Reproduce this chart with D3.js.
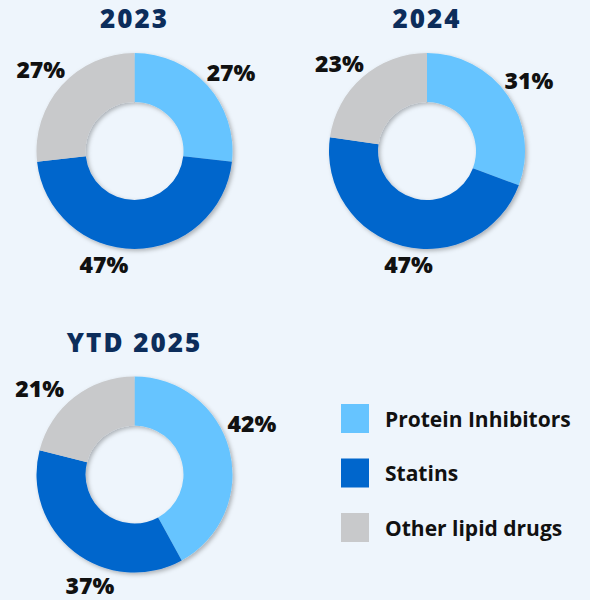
<html>
<head>
    <title>Lipid drugs share</title>
    <script src="https://cdn.jsdelivr.net/npm/d3@7"></script>
    <style>
        body { margin: 0; background: #eef5fc; }
        text { font-family: "Open Sans", "Noto Sans", sans-serif; }
    </style>
</head>
<body>
    <script>
        // data
        var periods = ['2023', '2024', 'YTD 2025'];
        var categories = ['Protein Inhibitors', 'Statins', 'Other lipid drugs'];
        var shares2023 = [27, 47, 27];
        var shares2024 = [31, 47, 23];
        var sharesYtd2025 = [42, 37, 21];
        var allShares = [shares2023, shares2024, sharesYtd2025];

        var width = 590,
            height = 600;

        var colors = d3.scaleOrdinal()
            .domain(categories)
            .range(['#66c4ff', '#0066cc', '#c8c9cb']);

        // where each donut sits
        var centers = [[134.5, 151], [427, 151], [134.5, 474.5]];
        var outerR = 98, innerR = 49;
        // labels were hand placed in the original: turn (deg) off the slice middle, and distance
        var labelTurn = [[3, 15, -1], [0, -5, -4], [-9, -16, -10]];
        var labelDist = [[124, 118, 124], [124, 115, 124], [128, 120, 128]];

        var svg = d3.select('body')
            .append('svg')
            .attr('width', width)
            .attr('height', height);

        var defs = svg.append('defs');
        defs.append('filter')
            .attr('id', 'shadow')
            .attr('x', '-20%').attr('y', '-20%')
            .attr('width', '140%').attr('height', '140%')
            .append('feDropShadow')
            .attr('dx', 2)
            .attr('dy', 2)
            .attr('stdDeviation', 2)
            .attr('flood-color', '#000')
            .attr('flood-opacity', 0.28);

        var pie = d3.pie().sort(null).value(function (d) { return d; });
        var arc = d3.arc().innerRadius(innerR).outerRadius(outerR);

        function labelAngle(d, i, k) {
            return (d.startAngle + d.endAngle) / 2 + labelTurn[i][k] * Math.PI / 180;
        }

        periods.forEach(function (p, i) {
            var g = svg.append('g')
                .attr('transform', 'translate(' + centers[i][0] + ',' + centers[i][1] + ')');

            g.append('text')
                .attr('y', -123)
                .attr('text-anchor', 'middle')
                .attr('fill', '#0c2d5b')
                .style('font-size', '26px')
                .style('font-weight', 800)
                .style('letter-spacing', '2px')
                .text(p);

            var slices = pie(allShares[i]);

            g.append('g')
                .attr('filter', 'url(#shadow)')
                .selectAll('path')
                .data(slices)
                .enter()
                .append('path')
                .attr('fill', function (d, k) { return colors(categories[k]); })
                .attr('d', arc);

            g.selectAll('text.pct')
                .data(slices)
                .enter()
                .append('text')
                .attr('class', 'pct')
                .attr('x', function (d, k) { return Math.sin(labelAngle(d, i, k)) * labelDist[i][k]; })
                .attr('y', function (d, k) { return -Math.cos(labelAngle(d, i, k)) * labelDist[i][k]; })
                .attr('dy', '0.36em')
                .attr('text-anchor', 'middle')
                .attr('fill', '#111')
                .style('font-size', '23px')
                .style('font-weight', 800)
                .text(function (d) { return d.data + '%'; });
        });

        // legend
        var legend = svg.append('g').attr('transform', 'translate(341,404)');
        var item = legend.selectAll('g')
            .data(categories)
            .enter()
            .append('g')
            .attr('transform', function (d, k) { return 'translate(0,' + k * 54.5 + ')'; });

        item.append('rect')
            .attr('width', 28)
            .attr('height', 29)
            .attr('fill', function (d) { return colors(d); });

        item.append('text')
            .attr('x', 44)
            .attr('y', 15)
            .attr('dy', '0.36em')
            .attr('fill', '#111')
            .style('font-size', '21px')
            .style('font-weight', 700)
            .text(function (d) { return d; });
    </script>
</body>
</html>
